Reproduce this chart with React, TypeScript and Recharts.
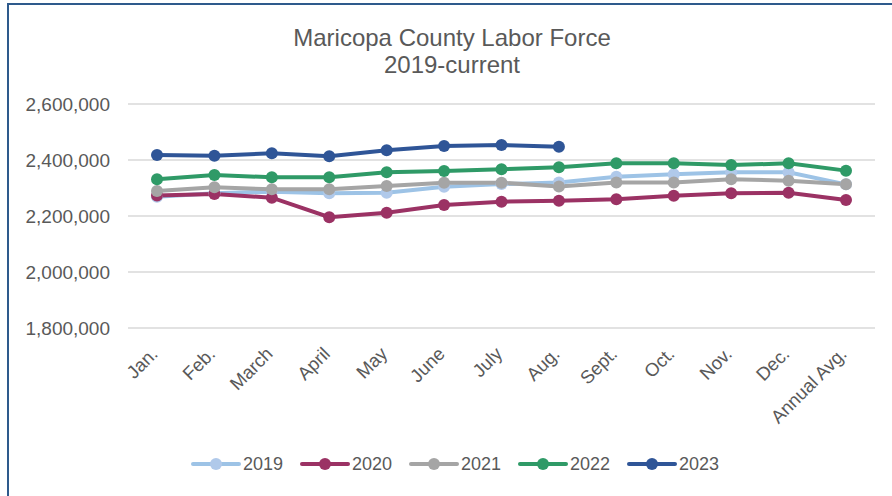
import React from "react";
import { LineChart, Line, XAxis, YAxis, CartesianGrid } from "recharts";

const MONTHS = ["Jan.", "Feb.", "March", "April", "May", "June", "July", "Aug.", "Sept.", "Oct.", "Nov.", "Dec.", "Annual Avg."];

const Y2019 = [2269000, 2281000, 2287000, 2281000, 2283000, 2304500, 2314000, 2320000, 2340000, 2349000, 2356000, 2356000, 2313000];
const Y2020 = [2273000, 2278500, 2265500, 2195500, 2212000, 2239000, 2251000, 2254500, 2259500, 2272500, 2281000, 2283000, 2257000];
const Y2021 = [2289000, 2302500, 2295500, 2295500, 2307000, 2319000, 2319000, 2305000, 2320000, 2320000, 2331000, 2326000, 2313000];
const Y2022 = [2331000, 2346500, 2338000, 2338000, 2356000, 2360500, 2367000, 2374000, 2388000, 2388000, 2382000, 2388000, 2362000];
const Y2023 = [2418000, 2415500, 2424000, 2413000, 2434500, 2450000, 2453500, 2447500];

const Y_TICKS = [1800000, 2000000, 2200000, 2400000, 2600000];

const SERIES = [
  { key: "y2019", name: "2019", color: "#9DC3E6", dot: "#B0C9EA" },
  { key: "y2020", name: "2020", color: "#9B3264", dot: "#9B3264" },
  { key: "y2021", name: "2021", color: "#A5A5A5", dot: "#A5A5A5" },
  { key: "y2022", name: "2022", color: "#2F9A67", dot: "#2F9A67" },
  { key: "y2023", name: "2023", color: "#2F5597", dot: "#2F5597" },
];

const data = MONTHS.map((month, i) => ({
  month,
  y2019: Y2019[i],
  y2020: Y2020[i],
  y2021: Y2021[i],
  y2022: Y2022[i],
  y2023: i < Y2023.length ? Y2023[i] : null,
}));

const FONT = '"Liberation Sans", Arial, sans-serif';
const TEXT = "#595959";

function XTick({ x, y, payload }: any) {
  const tx = x + 2;
  const ty = y + 27;
  return (
    <text
      x={tx}
      y={ty}
      transform={`rotate(-45, ${tx}, ${ty})`}
      textAnchor="end"
      fill={TEXT}
      fontSize={18.5}
      fontFamily={FONT}
    >
      {payload.value}
    </text>
  );
}

function YTick({ x, y, payload }: any) {
  return (
    <text x={x - 18} y={y} dy="0.36em" textAnchor="end" fill={TEXT} fontSize={19} fontFamily={FONT}>
      {Number(payload.value).toLocaleString("en-US")}
    </text>
  );
}

export default function App() {
  return (
    <div style={{ position: "absolute", left: 0, top: 0, width: 892, height: 496, background: "#fff", overflow: "hidden" }}>
      <div
        style={{
          position: "absolute",
          left: 7,
          top: 3,
          width: 920,
          height: 520,
          borderTop: "2px solid #2E5A8C",
          borderLeft: "2px solid #2E5A8C",
        }}
      />
      <div
        style={{
          position: "absolute",
          left: 452,
          top: 24,
          transform: "translateX(-50%)",
          textAlign: "center",
          fontFamily: FONT,
          fontSize: 24,
          lineHeight: "27px",
          color: TEXT,
          whiteSpace: "nowrap",
        }}
      >
        Maricopa County Labor Force
        <br />
        2019-current
      </div>
      <LineChart width={892} height={496} data={data} margin={{ top: 104, right: 17, left: 8, bottom: 0 }}>
        <CartesianGrid vertical={false} stroke="#D9D9D9" strokeWidth={1.5} />
        <XAxis
          dataKey="month"
          height={168}
          axisLine={false}
          tickLine={false}
          tickSize={0}
          tickMargin={0}
          interval={0}
          padding={{ left: 29, right: 29 }}
          tick={<XTick />}
        />
        <YAxis
          width={120}
          domain={[1800000, 2600000]}
          ticks={Y_TICKS}
          axisLine={false}
          tickLine={false}
          tickSize={0}
          tickMargin={0}
          tick={<YTick />}
        />
        {SERIES.map((s) => (
          <Line
            key={s.key}
            type="linear"
            dataKey={s.key}
            name={s.name}
            stroke={s.color}
            strokeWidth={4}
            dot={{ r: 6, fill: s.dot, stroke: s.dot, strokeWidth: 0 }}
            activeDot={false}
            isAnimationActive={false}
          />
        ))}
      </LineChart>
      <svg style={{ position: "absolute", left: 0, top: 440 }} width={892} height={50}>
        {SERIES.map((s, i) => {
          const x0 = 193 + i * 109;
          return (
            <g key={s.key}>
              <line x1={x0} y1={24} x2={x0 + 46} y2={24} stroke={s.color} strokeWidth={4} strokeLinecap="round" />
              <circle cx={x0 + 23} cy={24} r={6} fill={s.dot} />
              <text x={x0 + 50} y={24} dy="0.36em" fill={TEXT} fontSize={18} fontFamily={FONT}>
                {s.name}
              </text>
            </g>
          );
        })}
      </svg>
    </div>
  );
}
